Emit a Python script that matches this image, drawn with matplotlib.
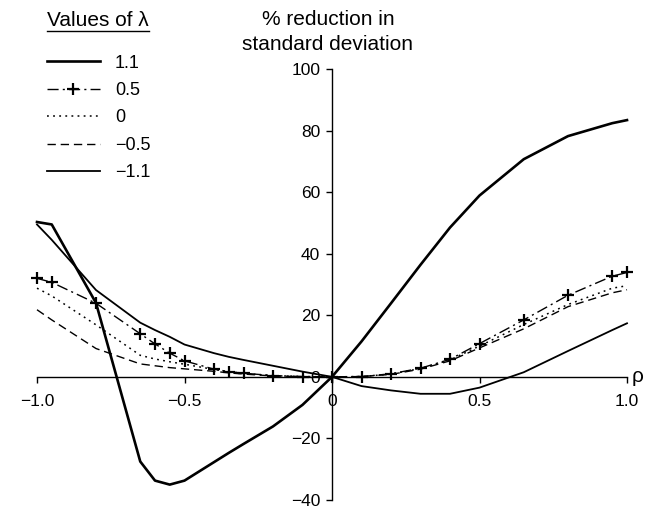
import matplotlib
matplotlib.use("Agg")
import matplotlib.pyplot as plt
from matplotlib.lines import Line2D
import matplotlib.transforms as mtransforms

plt.rcParams['font.family'] = ['Liberation Sans', 'DejaVu Sans']

rho = [-1.0, -0.95, -0.8, -0.65, -0.6, -0.55, -0.5, -0.4, -0.35, -0.3, -0.2, -0.1, 0.0,
       0.1, 0.2, 0.3, 0.4, 0.5, 0.65, 0.8, 0.95, 1.0]

lam_p11 = [50.3, 49.5, 24.0, -27.5, -33.7, -35.0, -33.7, -27.7, -24.7, -21.8, -16.1, -9.1, 0.0,
           11.5, 23.9, 36.4, 48.5, 58.9, 70.7, 78.2, 82.4, 83.4]
lam_p05 = [32.0, 30.7, 23.9, 14.0, 10.7, 7.7, 5.2, 2.5, 1.7, 1.2, 0.4, 0.1, 0.0,
           0.1, 1.0, 2.8, 5.7, 10.8, 18.5, 26.5, 32.7, 33.9]
lam_0 = [28.8, 26.3, 16.9, 7.0, 5.8, 4.9, 4.1, 2.4, 1.7, 1.1, 0.4, 0.1, 0.0,
         0.1, 0.9, 2.7, 5.5, 10.0, 17.0, 23.5, 28.8, 29.6]
lam_m05 = [21.8, 18.5, 9.2, 4.2, 3.6, 3.0, 2.6, 1.8, 1.3, 0.9, 0.3, 0.05, 0.0,
           0.1, 0.8, 2.5, 5.2, 9.4, 15.6, 22.8, 27.3, 28.3]
lam_m11 = [49.5, 44.5, 28.2, 17.6, 15.2, 13.0, 10.5, 7.7, 6.5, 5.5, 3.6, 1.7, 0.0,
           -3.0, -4.4, -5.5, -5.5, -3.5, 1.5, 8.4, 15.2, 17.4]

legend_title = "Values of \u03bb"
legend_labels = ["1.1", "0.5", "0", "\u22120.5", "\u22121.1"]
x_ticks = [-1.0, -0.5, 0.0, 0.5, 1.0]
x_ticklabels = ["\u22121.0", "\u22120.5", "0", "0.5", "1.0"]
y_ticks = [-40, -20, 0, 20, 40, 60, 80, 100]
y_ticklabels = ["\u221240", "\u221220", "0", "20", "40", "60", "80", "100"]
ylabel_lines = ["% reduction in", "standard deviation"]

W, H = 656, 512
fig = plt.figure(figsize=(W / 100, H / 100), dpi=100)
ax = fig.add_axes([37 / W, 1 - 500 / H, 590 / W, 431 / H])
ax.set_xlim(-1.0, 1.0)
ax.set_ylim(-40, 100)

styles = [
    dict(color="black", lw=1.9, ls="-"),
    dict(color="black", lw=1.0, ls=(0, (8, 3, 1.5, 3)), marker="+", ms=8, mew=1.6),
    dict(color="black", lw=1.1, ls=(0, (1.2, 2.8))),
    dict(color="black", lw=1.0, ls=(0, (6, 3.5))),
    dict(color="black", lw=1.3, ls="-"),
]
series = [lam_p11, lam_p05, lam_0, lam_m05, lam_m11]
for ys, st in zip(series, styles):
    ax.plot(rho, ys, clip_on=False, **st)

# spines crossing at origin
for s in ["top", "right"]:
    ax.spines[s].set_visible(False)
ax.spines["left"].set_position(("data", 0))
ax.spines["bottom"].set_position(("data", 0))
ax.spines["left"].set_linewidth(1.0)
ax.spines["bottom"].set_linewidth(1.0)

ax.set_xticks(x_ticks)
ax.set_xticklabels(x_ticklabels)
ax.set_yticks(y_ticks)
ax.set_yticklabels(y_ticklabels)
ax.tick_params(axis="both", direction="out", length=4.5, width=1.0, labelsize=12.5)
ax.tick_params(axis="x", pad=8)
ax.tick_params(axis="y", pad=4)

ax.text(1.0085, -1.6, "\u03c1", transform=mtransforms.blended_transform_factory(ax.transAxes, ax.transData),
        ha="left", va="baseline", fontsize=15)

fig.text(328 / W, 1 - 25 / H, ylabel_lines[0], ha="center", va="baseline", fontsize=15)
fig.text(328 / W, 1 - 49.5 / H, ylabel_lines[1], ha="center", va="baseline", fontsize=15)

# legend title, underlined
t = fig.text(47 / W, 1 - 26 / H, legend_title, ha="left", va="baseline", fontsize=15)
fig.canvas.draw()
bb = t.get_window_extent()
inv = fig.transFigure.inverted()
(x0, _), (x1, _) = inv.transform([(bb.x0, 0), (bb.x1, 0)])
yl = 1 - 30.5 / H
fig.add_artist(Line2D([x0, x1], [yl, yl], transform=fig.transFigure, color="black", lw=1.0))

handles = [Line2D([], [], **st) for st in styles]
leg = fig.legend(handles, legend_labels, loc="upper left",
                 bbox_to_anchor=(47 / W, 1 - 54.5 / H), frameon=False, fontsize=13,
                 handlelength=2.93, handletextpad=0.83, labelspacing=0.58,
                 borderpad=0, borderaxespad=0)

fig.savefig("out.png", dpi=100)
